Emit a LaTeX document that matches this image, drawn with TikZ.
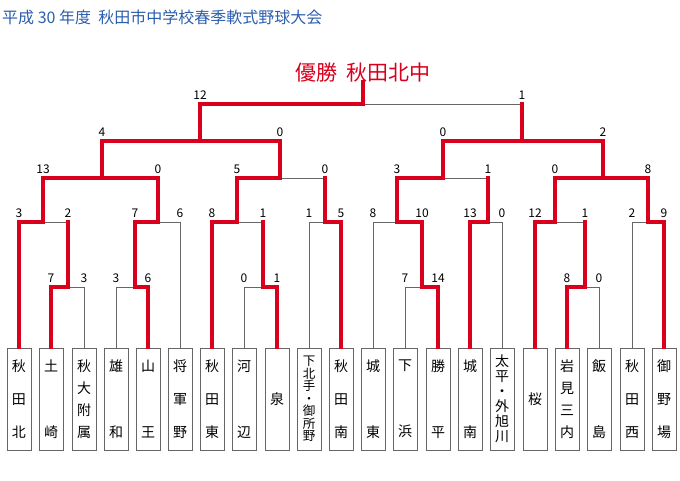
\documentclass[tikz,border=0pt]{standalone}
\usepackage{fontspec}
\newfontfamily\jp{Noto Sans CJK JP}
\definecolor{rd}{HTML}{D8001C}
\definecolor{ttl}{HTML}{2B5EAE}
\begin{document}
\begin{tikzpicture}[x=1pt,y=-1pt,
  g/.style={draw=gray!80!black,line width=0.7pt},
  r/.style={draw=rd,line width=3.6pt,line cap=rect,line join=miter},
  box/.style={draw=gray!80!black,line width=0.7pt,minimum width=24pt,minimum height=102pt,inner sep=0pt},
  sc/.style={font=\jp\fontsize{12}{12}\selectfont,anchor=south,inner sep=1pt}]
\useasboundingbox (0,0) rectangle (680,480);
\node[anchor=west,text=ttl,font=\jp\fontsize{16}{16}\selectfont,inner sep=0pt] (title) at (2,17) {平成 30 年度\ \ 秋田市中学校春季軟式野球大会};
\node[text=rd,font=\jp\fontsize{21}{21}\selectfont,anchor=south,inner sep=0pt] (win) at (363,82) {優勝\ \ 秋田北中};
\newcommand\tm[5]{\node[box] (#1) at (#2,399) {};
  \node[font=\jp\fontsize{#5}{#3}\selectfont,align=center,inner sep=0pt] at (#1.center) {#4};}
\tm{t1}{19}{33}{秋\\田\\北}{14}
\tm{t2}{51}{66}{土\\崎}{14}
\tm{t3}{84}{22}{秋\\大\\附\\属}{14}
\tm{t4}{116}{66}{雄\\和}{14}
\tm{t5}{148}{66}{山\\王}{14}
\tm{t6}{180}{33}{将\\軍\\野}{14}
\tm{t7}{212}{33}{秋\\田\\東}{14}
\tm{t8}{244}{66}{河\\辺}{14}
\tm{t9}{277}{14}{泉}{14}
\tm{t10}{309}{12.5}{下\\北\\手\\・\\御\\所\\野}{12.5}
\tm{t11}{341}{33}{秋\\田\\南}{14}
\tm{t12}{373}{66}{城\\東}{14}
\tm{t13}{405}{66}{下\\浜}{14}
\tm{t14}{438}{66}{勝\\平}{14}
\tm{t15}{470}{66}{城\\南}{14}
\tm{t16}{502}{15}{太\\平\\・\\外\\旭\\川}{14}
\tm{t17}{535}{14}{桜}{14}
\tm{t18}{567}{22}{岩\\見\\三\\内}{14}
\tm{t19}{599}{66}{飯\\島}{14}
\tm{t20}{632}{33}{秋\\田\\西}{14}
\tm{t21}{664}{33}{御\\野\\場}{14}
% match: left x, right x, y, riser x, top y, left score, right score
\newcommand\mt[7]{\draw[g] (#1,#3) -- (#2,#3); \node[sc] at (#1,#3-3) {#6}; \node[sc] at (#2,#3-3) {#7};}
\foreach \t/\x/\y in {t1/19/222,t2/51/287,t3/84/287,t4/116/287,t5/148/287,t6/180/222,t7/212/222,t8/244/287,t9/277/287,t10/309/222,t11/341/222,t12/373/222,t13/405/287,t14/438/287,t15/470/222,t16/502/222,t17/535/222,t18/567/287,t19/599/287,t20/632/222,t21/664/222}
  \draw[g] (\t.north) -- (\x,\y);
\mt{51}{84}{287}{68}{222}{7}{3}
\mt{116}{148}{287}{135}{222}{3}{6}
\mt{244}{277}{287}{263}{222}{0}{1}
\mt{405}{438}{287}{422}{222}{7}{14}
\mt{567}{599}{287}{585}{222}{8}{0}
\mt{19}{68}{222}{43}{178}{3}{2}
\mt{135}{180}{222}{158}{178}{7}{6}
\mt{212}{263}{222}{237}{178}{8}{1}
\mt{309}{341}{222}{325}{178}{1}{5}
\mt{373}{422}{222}{397}{178}{8}{10}
\mt{470}{502}{222}{488}{178}{13}{0}
\mt{535}{585}{222}{555}{178}{12}{1}
\mt{632}{664}{222}{648}{178}{2}{9}
\mt{43}{158}{178}{102}{141}{13}{0}
\mt{237}{325}{178}{280}{141}{5}{0}
\mt{397}{488}{178}{443}{141}{3}{1}
\mt{555}{648}{178}{603}{141}{0}{8}
\mt{102}{280}{141}{200}{104}{4}{0}
\mt{443}{603}{141}{522}{104}{0}{2}
\mt{200}{522}{104}{363}{84}{12}{1}
\draw[r] (t1.north) |- (43,222) -- (43,178) -- (102,178) -- (102,141) -- (200,141) -- (200,104) -- (363,104) -- (win.south);
\draw[r] (t2.north) |- (68,287) -- (68,222);
\draw[r] (t5.north) |- (135,287) -- (135,222) -- (158,222) -- (158,178) -- (102,178);
\draw[r] (t7.north) |- (237,222) -- (237,178) -- (280,178) -- (280,141) -- (200,141);
\draw[r] (t9.north) |- (263,287) -- (263,222);
\draw[r] (t11.north) |- (325,222) -- (325,178);
\draw[r] (t14.north) |- (422,287) -- (422,222) -- (397,222) -- (397,178) -- (443,178) -- (443,141) -- (522,141) -- (522,104);
\draw[r] (t15.north) |- (488,222) -- (488,178);
\draw[r] (t17.north) |- (555,222) -- (555,178) -- (603,178);
\draw[r] (t18.north) |- (585,287) -- (585,222);
\draw[r] (t21.north) |- (648,222) -- (648,178) -- (603,178) -- (603,141) -- (522,141);
\end{tikzpicture}
\end{document}
